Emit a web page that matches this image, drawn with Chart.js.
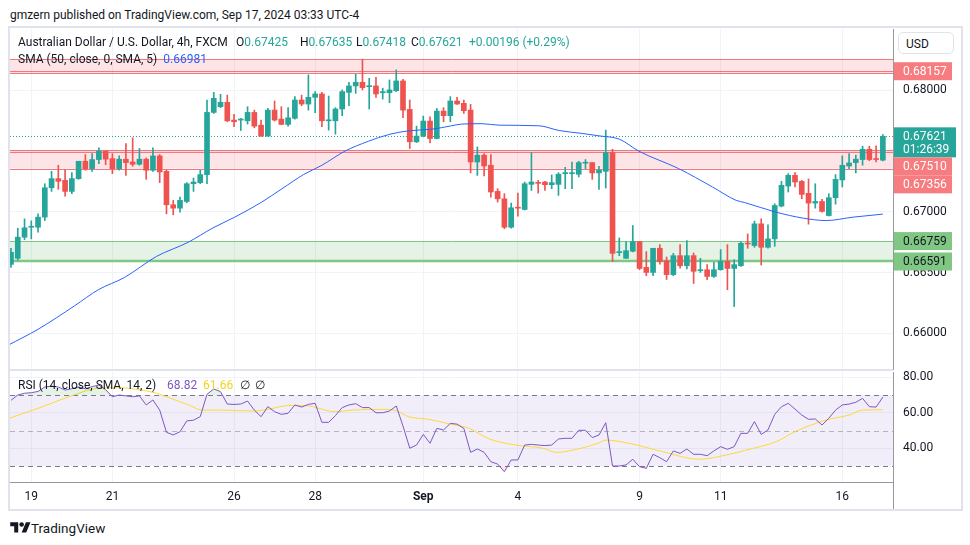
<!DOCTYPE html>
<html>
<head>
<meta charset="utf-8">
<script src="https://cdn.jsdelivr.net/npm/chart.js@4.4.1/dist/chart.umd.min.js"></script>
<style>
  body { margin: 0; background: #fff; width: 970px; height: 545px; overflow: hidden; position: relative;
         font-family: Roboto, 'Noto Sans', sans-serif; color: #131722; }
  .abs { position: absolute; white-space: nowrap; }
  #frame { left: 8px; top: 26px; width: 951px; height: 481px; border: 2px solid #e0e3eb; }
  #priceChart { position: absolute; left: 0; top: 28px; }
  #rsiChart { position: absolute; left: 0; top: 371px; }
  #sep { left: 10px; top: 369px; width: 883px; height: 2px; background: #e0e3eb; }
  .lg { font-size: 12px; line-height: 14px; }
  #usd { left: 898px; top: 32px; width: 56px; height: 22px; border: 1px solid #e0e3eb; border-radius: 5px;
         background: #fff; font-size: 12px; line-height: 22px; box-sizing: border-box; padding-left: 7px; }
</style>
</head>
<body>
<div class="abs" style="left:10px;top:8px;font-size:12px;">gmzern published on TradingView.com, Sep 17, 2024 03:33 UTC-4</div>
<div id="frame" class="abs"></div>
<canvas id="priceChart" width="970" height="343"></canvas>
<canvas id="rsiChart" width="970" height="139"></canvas>
<div id="sep" class="abs"></div>

<div class="abs lg" style="left:18px;top:35px;">Australian Dollar / U.S. Dollar, 4h, FXCM</div>
<div class="abs lg" style="left:236px;top:35px;">O<span style="color:#26a69a">0.67425</span></div>
<div class="abs lg" style="left:300px;top:35px;">H<span style="color:#26a69a">0.67635</span></div>
<div class="abs lg" style="left:356px;top:35px;">L<span style="color:#26a69a">0.67418</span></div>
<div class="abs lg" style="left:411px;top:35px;">C<span style="color:#26a69a">0.67621</span></div>
<div class="abs lg" style="left:469px;top:35px;color:#26a69a">+0.00196 (+0.29%)</div>
<div class="abs lg" style="left:18px;top:52px;">SMA (50, close, 0, SMA, 5) <span style="color:#2962ff;margin-left:3px">0.66981</span></div>
<div class="abs lg" style="left:18px;top:378px;">RSI (14, close, SMA, 14, 2)</div>
<div class="abs lg" style="left:167px;top:378px;color:#7e57c2">68.82</div>
<div class="abs lg" style="left:203px;top:378px;color:#f2d51e">61.66</div>
<div class="abs lg" style="left:240px;top:378px;">&#8709;</div>
<div class="abs lg" style="left:255px;top:378px;">&#8709;</div>
<div id="usd" class="abs">USD</div>

<div class="abs" style="left:10px;top:520px;font-size:13.5px;line-height:16px;">
  <svg width="21" height="16" viewBox="0 0 36 28" style="vertical-align:-3px"><path d="M14 22H7V11H0V4h14v18zM28 22h-8l7.5-18h8L28 22z" fill="#131722"/><circle cx="20" cy="8" r="4" fill="#131722"/></svg>TradingView
</div>

<script>
// 4h candles, Aug 18 – Sep 17 2024
const opens = [
  0.66567, 0.66617, 0.66791, 0.66873, 0.66873, 0.66956, 0.67198, 0.67273, 0.67259, 0.67168,
  0.67273, 0.67416, 0.67355, 0.67430, 0.67499, 0.67438, 0.67355, 0.67433, 0.67410, 0.67391,
  0.67433, 0.67342, 0.67460, 0.67333, 0.67058, 0.67030, 0.67085, 0.67231, 0.67240, 0.67306,
  0.67818, 0.67865, 0.67901, 0.67755, 0.67755, 0.67749, 0.67818, 0.67713, 0.67623, 0.67837,
  0.67763, 0.67719, 0.67769, 0.67920, 0.67887, 0.67942, 0.67970, 0.67749, 0.67749, 0.67846,
  0.67983, 0.68036, 0.68066, 0.68030, 0.68036, 0.67980, 0.67980, 0.67997, 0.68077, 0.67843,
  0.67576, 0.67623, 0.67747, 0.67603, 0.67829, 0.67791, 0.67912, 0.67893, 0.67837, 0.67410,
  0.67466, 0.67383, 0.67168, 0.67107, 0.66873, 0.67036, 0.67019, 0.67226, 0.67240, 0.67245,
  0.67223, 0.67226, 0.67314, 0.67314, 0.67309, 0.67400, 0.67405, 0.67320, 0.67333, 0.67488,
  0.66664, 0.66617, 0.66675, 0.66755, 0.66543, 0.66501, 0.66700, 0.66598, 0.66483, 0.66639,
  0.66556, 0.66639, 0.66515, 0.66523, 0.66468, 0.66523, 0.66592, 0.66534, 0.66556, 0.66741,
  0.66722, 0.66901, 0.66708, 0.66777, 0.67047, 0.67212, 0.67300, 0.67251, 0.67152, 0.67072,
  0.67085, 0.66969, 0.67116, 0.67262, 0.67377, 0.67405, 0.67430, 0.67515, 0.67433, 0.67425
];
const highs = [
  0.66700, 0.66865, 0.66942, 0.66926, 0.66983, 0.67231, 0.67333, 0.67383, 0.67347, 0.67322,
  0.67416, 0.67471, 0.67479, 0.67526, 0.67499, 0.67479, 0.67460, 0.67562, 0.67609, 0.67521,
  0.67444, 0.67526, 0.67471, 0.67342, 0.67094, 0.67121, 0.67240, 0.67278, 0.67342, 0.67920,
  0.67983, 0.67967, 0.67961, 0.67802, 0.67769, 0.67865, 0.67837, 0.67755, 0.67851, 0.67912,
  0.67865, 0.67857, 0.67948, 0.67961, 0.68127, 0.67989, 0.67983, 0.67953, 0.67857, 0.68003,
  0.68066, 0.68132, 0.68256, 0.68099, 0.68107, 0.68017, 0.68085, 0.68168, 0.68091, 0.67920,
  0.67705, 0.67788, 0.67782, 0.67851, 0.67857, 0.67948, 0.67942, 0.67920, 0.67884, 0.67534,
  0.67479, 0.67471, 0.67190, 0.67149, 0.67072, 0.67154, 0.67245, 0.67488, 0.67259, 0.67251,
  0.67303, 0.67322, 0.67366, 0.67410, 0.67416, 0.67430, 0.67405, 0.67375, 0.67672, 0.67515,
  0.66785, 0.66755, 0.66887, 0.66755, 0.66672, 0.66700, 0.66730, 0.66628, 0.66658, 0.66730,
  0.66763, 0.66661, 0.66617, 0.66565, 0.66584, 0.66689, 0.66730, 0.66606, 0.66755, 0.66818,
  0.66923, 0.66942, 0.66893, 0.67066, 0.67251, 0.67314, 0.67322, 0.67259, 0.67270, 0.67231,
  0.67102, 0.67149, 0.67306, 0.67460, 0.67479, 0.67466, 0.67540, 0.67540, 0.67543, 0.67635
];
const lows = [
  0.66543, 0.66603, 0.66771, 0.66777, 0.66832, 0.66928, 0.67168, 0.67185, 0.67129, 0.67149,
  0.67267, 0.67342, 0.67333, 0.67397, 0.67388, 0.67314, 0.67342, 0.67300, 0.67375, 0.67383,
  0.67267, 0.67333, 0.67240, 0.66983, 0.66975, 0.66997, 0.67074, 0.67168, 0.67231, 0.67231,
  0.67810, 0.67857, 0.67741, 0.67700, 0.67669, 0.67722, 0.67691, 0.67623, 0.67623, 0.67747,
  0.67719, 0.67705, 0.67762, 0.67873, 0.67837, 0.67815, 0.67700, 0.67672, 0.67639, 0.67791,
  0.67873, 0.67975, 0.68003, 0.67846, 0.67942, 0.67928, 0.67898, 0.67989, 0.67774, 0.67521,
  0.67570, 0.67617, 0.67567, 0.67600, 0.67741, 0.67741, 0.67884, 0.67810, 0.67320, 0.67300,
  0.67295, 0.67121, 0.67080, 0.66860, 0.66865, 0.66964, 0.67015, 0.67176, 0.67154, 0.67176,
  0.67190, 0.67135, 0.67190, 0.67190, 0.67287, 0.67355, 0.67267, 0.67185, 0.67196, 0.66590,
  0.66639, 0.66617, 0.66670, 0.66523, 0.66474, 0.66474, 0.66570, 0.66443, 0.66474, 0.66537,
  0.66530, 0.66410, 0.66501, 0.66441, 0.66460, 0.66520, 0.66358, 0.66220, 0.66550, 0.66700,
  0.66708, 0.66562, 0.66700, 0.66716, 0.67040, 0.67163, 0.67204, 0.67107, 0.66898, 0.67030,
  0.66997, 0.66965, 0.67063, 0.67204, 0.67355, 0.67320, 0.67383, 0.67420, 0.67410, 0.67418
];
const closes = [
  0.66667, 0.66791, 0.66868, 0.66879, 0.66956, 0.67198, 0.67273, 0.67251, 0.67168, 0.67273,
  0.67416, 0.67355, 0.67430, 0.67499, 0.67433, 0.67355, 0.67433, 0.67405, 0.67391, 0.67433,
  0.67342, 0.67460, 0.67328, 0.67058, 0.67030, 0.67094, 0.67231, 0.67245, 0.67306, 0.67818,
  0.67934, 0.67901, 0.67749, 0.67741, 0.67763, 0.67818, 0.67705, 0.67623, 0.67837, 0.67755,
  0.67719, 0.67774, 0.67920, 0.67887, 0.67942, 0.67970, 0.67749, 0.67755, 0.67846, 0.67989,
  0.68036, 0.68066, 0.68022, 0.68036, 0.67970, 0.67989, 0.68003, 0.68077, 0.67837, 0.67576,
  0.67623, 0.67747, 0.67603, 0.67829, 0.67791, 0.67912, 0.67887, 0.67832, 0.67410, 0.67466,
  0.67377, 0.67163, 0.67107, 0.66873, 0.67033, 0.67030, 0.67231, 0.67245, 0.67234, 0.67223,
  0.67240, 0.67309, 0.67322, 0.67322, 0.67405, 0.67405, 0.67320, 0.67342, 0.67488, 0.66658,
  0.66672, 0.66680, 0.66755, 0.66534, 0.66501, 0.66700, 0.66590, 0.66483, 0.66639, 0.66556,
  0.66639, 0.66510, 0.66521, 0.66468, 0.66523, 0.66592, 0.66534, 0.66565, 0.66741, 0.66735,
  0.66901, 0.66708, 0.66777, 0.67052, 0.67218, 0.67300, 0.67245, 0.67143, 0.67072, 0.67085,
  0.67003, 0.67116, 0.67267, 0.67383, 0.67402, 0.67433, 0.67515, 0.67430, 0.67430, 0.67621
];

// SMA 50 at a few bar positions
const smaIdx = [-0.5, 4, 9.4, 12.9, 16.8, 21.5, 26.2, 29.9, 33.1, 37.1, 40.1, 43.3, 46, 49.4, 52.9, 55.9,
  58.9, 62.3, 65, 66.7, 69.7, 72.2, 78.1, 81.1, 84.5, 87, 90, 92.9, 98.8, 103.8, 107.3, 108.5,
  113.2, 117.2, 120.6, 124.6, 129];
const smaVal = [0.65900, 0.66033, 0.66226, 0.66358, 0.66460, 0.66632, 0.66749, 0.66868, 0.66956, 0.67080,
  0.67190, 0.67307, 0.67383, 0.67499, 0.67581, 0.67636, 0.67667, 0.67680, 0.67706, 0.67722,
  0.67725, 0.67713, 0.67708, 0.67669, 0.67645, 0.67625, 0.67598, 0.67499, 0.67355, 0.67204,
  0.67094, 0.67077, 0.66997, 0.66948, 0.66928, 0.66956, 0.66981];

// RSI 14, one value per bar
const rsi = [
  67, 70, 71, 71.3, 72, 74.5, 75, 74.5, 72.8, 73.5,
  74.5, 73.5, 74.7, 75.6, 73, 69, 70, 69.5, 69, 69.5,
  64.4, 67.2, 61.5, 49, 47.5, 49.3, 55.4, 55.8, 57.8, 70.4,
  73.4, 71.9, 64.9, 64.7, 64.9, 66.6, 61.5, 57.8, 63.4, 60.6,
  59.1, 59.7, 64.4, 63.2, 64.7, 65.3, 54.6, 54.6, 58.4, 62.9,
  64.4, 65.1, 62.9, 62.9, 60, 60, 61, 63.8, 52.5, 40,
  41.8, 47.8, 42.8, 51.2, 50.3, 54, 53.6, 51.2, 37.7, 39.6,
  37.7, 32.4, 31.1, 26.8, 33.4, 33.4, 41.8, 42.2, 41.8, 41.5,
  41.8, 45.2, 45.6, 45.6, 50.1, 50.1, 46, 47.5, 54.4, 30,
  30, 30.6, 33.8, 29.6, 28.7, 36.6, 34.7, 32.4, 38.5, 37.1,
  39.6, 36.6, 36.6, 35.8, 38.5, 40.9, 39.4, 40.9, 48.4, 48.4,
  55, 47.8, 50.3, 59.1, 63.4, 65.3, 62.1, 58.7, 56.3, 56.5,
  53.1, 56.9, 61.5, 64.4, 64.9, 65.9, 68.1, 63.4, 63.2, 68.82
];
// RSI-based MA, sampled
const rsiMaIdx = [-0.5, 4, 9.3, 12.8, 15.8, 19.3, 21.5, 24.3, 26.3, 28.3, 31.2, 36.1, 38, 41, 43.5, 48,
  50.5, 55.4, 57.1, 58.8, 61.8, 64.8, 67.8, 70.8, 74.7, 78.7, 80.7, 82.6, 87, 88, 91.4, 96.4,
  101.8, 106.3, 108.5, 113.2, 116.2, 120.6, 124, 126, 129];
const rsiMaVal = [56.6, 62.5, 70, 73.8, 74.1, 72.8, 71, 67.2, 64.4, 61.5, 61.5, 61, 61.9, 64, 64, 60.6,
  61.5, 61.9, 61, 57.8, 56.3, 53.8, 51.2, 45.2, 41.8, 40, 37.7, 38.5, 43, 44.6, 42.8, 38.1,
  33.8, 36.6, 38.7, 43.7, 49.7, 55.9, 58.7, 61.5, 61.66];

const dayIdx = [3, 15, 33, 45, 61, 75, 93, 105, 123];
const dayLabels = ['19', '21', '26', '28', 'Sep', '4', '9', '11', '16'];
const priceTicks = [0.660, 0.665, 0.670, 0.675, 0.680];
const rsiTicks = [40, 60, 80];

// horizontal zones drawn on the price pane
const redZoneTop = [0.68255, 0.68140];
const redZoneTopLines = [0.68255, 0.68157, 0.68140];
const redZoneMid = [0.67510, 0.67356];
const redZoneMidLines = [0.67510, 0.67490, 0.67356];
const greenZone = [0.66759, 0.66591];
const lastPrice = 0.67621;

const UP = '#26a69a', DOWN = '#ef5350';
const FONT = "Roboto, 'Noto Sans', sans-serif";
Chart.defaults.font.family = FONT;

const bars = opens.map((_, i) => i);
const candleColors = bars.map(i => (closes[i] >= opens[i] ? UP : DOWN));

function hLine(ctx, area, y, color, width, dash) {
  ctx.save();
  ctx.strokeStyle = color;
  ctx.lineWidth = width;
  ctx.setLineDash(dash || []);
  ctx.beginPath();
  ctx.moveTo(area.left, y);
  ctx.lineTo(area.right, y);
  ctx.stroke();
  ctx.restore();
}

function noPad(s) {
  s.paddingTop = 0; s.paddingBottom = 0; s.paddingLeft = 0; s.paddingRight = 0;
}

// put the plot area where the screenshot has it, and make two known values land on their pixels
function calibrate(chart, top, bottom, v1, p1, v2, p2) {
  let padTop = 0, padBottom = 0;
  const k = (p2 - p1) / (v1 - v2);
  for (let n = 0; n < 4; n++) {
    const a = chart.chartArea;
    padTop += top - a.top;
    padBottom += a.bottom - bottom;
    chart.options.layout.padding = { left: 10, right: 0, top: padTop, bottom: padBottom };
    chart.options.scales.y.max = v1 + (p1 - top) / k;
    chart.options.scales.y.min = v2 - (bottom - p2) / k;
    chart.update();
  }
}

const zonesPlugin = {
  id: 'zones',
  beforeDatasetsDraw(chart) {
    const { ctx, chartArea: a, scales: { y } } = chart;
    const band = (pair, fill) => {
      const y1 = y.getPixelForValue(pair[0]), y2 = y.getPixelForValue(pair[1]);
      ctx.fillStyle = fill;
      ctx.fillRect(a.left, y1, a.right - a.left, y2 - y1);
    };
    ctx.save();
    ctx.beginPath();
    ctx.rect(a.left, a.top, a.right - a.left, a.bottom - a.top);
    ctx.clip();
    band(redZoneTop, 'rgba(242,54,69,0.13)');
    band(redZoneMid, 'rgba(242,54,69,0.13)');
    band(greenZone, 'rgba(76,175,80,0.15)');
    redZoneTopLines.concat(redZoneMidLines).forEach(v =>
      hLine(ctx, a, Math.round(y.getPixelForValue(v)) + 0.5, '#f4777d', 1));
    hLine(ctx, a, Math.round(y.getPixelForValue(greenZone[0])) + 0.5, '#81c784', 1);
    hLine(ctx, a, Math.round(y.getPixelForValue(greenZone[1])), '#81c784', 2.5);
    hLine(ctx, a, Math.round(y.getPixelForValue(lastPrice)) + 0.5, UP, 1, [1, 2]);
    ctx.restore();
  },
  afterDraw(chart) {
    const { ctx, chartArea: a, scales: { y } } = chart;
    const labels = [
      { v: 0.68157, t: ['0.68157'], bg: '#f77c80', fg: '#fff' },
      { v: lastPrice, t: ['0.67621', '01:26:39'], bg: UP, fg: '#fff' },
      { v: redZoneMid[0], t: ['0.67510'], bg: '#f77c80', fg: '#fff' },
      { v: redZoneMid[1], t: ['0.67356'], bg: '#f77c80', fg: '#fff' },
      { v: greenZone[0], t: ['0.66759'], bg: '#81c784', fg: '#131722' },
      { v: greenZone[1], t: ['0.66591'], bg: '#81c784', fg: '#131722' },
    ];
    let prevBottom = -1e9;
    ctx.save();
    ctx.font = '12px ' + FONT;
    ctx.textBaseline = 'middle';
    labels.forEach(l => {
      const h = 6 + 12 * l.t.length;
      let top = y.getPixelForValue(l.v) - 9;
      if (top < prevBottom) top = prevBottom;
      prevBottom = top + h;
      ctx.fillStyle = l.bg;
      ctx.fillRect(a.right + 1, top, l.t.length > 1 ? 62 : 58, h);
      ctx.fillStyle = l.fg;
      l.t.forEach((s, k) => ctx.fillText(s, a.right + 10, top + 9.5 + 13 * k));
    });
    ctx.restore();
  }
};

const priceChart = new Chart(document.getElementById('priceChart'), {
  type: 'bar',
  data: {
    datasets: [
      {
        type: 'line',
        data: smaIdx.map((x, k) => ({ x, y: smaVal[k] })),
        borderColor: '#2962ff',
        borderWidth: 1,
        pointRadius: 0,
        cubicInterpolationMode: 'monotone',
        order: 0,
      },
      {
        data: bars.map(i => ({ x: i, y: [lows[i], highs[i]] })),
        backgroundColor: candleColors,
        barThickness: 1,
        grouped: false,
        order: 2,
      },
      {
        data: bars.map(i => ({ x: i, y: [opens[i], closes[i]] })),
        backgroundColor: candleColors,
        barThickness: 5,
        minBarLength: 1,
        grouped: false,
        order: 1,
      },
    ],
  },
  options: {
    responsive: false,
    animation: false,
    layout: { padding: { left: 10, right: 0, top: 0, bottom: 0 } },
    plugins: { legend: { display: false }, tooltip: { enabled: false } },
    scales: {
      x: {
        type: 'linear',
        min: -0.15,
        max: 130.5,
        offset: false,
        grid: { color: '#f0f3fa', drawTicks: false, offset: false },
        border: { display: false },
        ticks: { display: false },
        afterBuildTicks: s => { s.ticks = dayIdx.map(v => ({ value: v })); },
        afterFit: s => { s.height = 0; noPad(s); },
      },
      y: {
        position: 'right',
        min: 0.657,
        max: 0.685,
        grid: { color: '#f0f3fa', drawTicks: false },
        border: { color: '#9598a1' },
        ticks: { padding: 10, color: '#131722', font: { size: 12 }, callback: v => v.toFixed(5) },
        afterBuildTicks: s => { s.ticks = priceTicks.map(v => ({ value: v })); },
        afterFit: s => { s.width = 77; noPad(s); },
      },
    },
  },
  plugins: [zonesPlugin],
});
// canvas starts at page y=28: 0.68 sits at y=90.3, 0.66 at y=333.3
calibrate(priceChart, 1, 341, 0.68, 62.3, 0.66, 305.3);

const rsiBandPlugin = {
  id: 'rsiBand',
  beforeDatasetsDraw(chart) {
    const { ctx, chartArea: a, scales: { y } } = chart;
    const y70 = y.getPixelForValue(70), y30 = y.getPixelForValue(30);
    ctx.save();
    ctx.fillStyle = 'rgba(126,87,194,0.1)';
    ctx.fillRect(a.left, y70, a.right - a.left, y30 - y70);
    hLine(ctx, a, Math.round(y70) + 0.5, '#787b86', 1, [5, 4]);
    hLine(ctx, a, Math.round(y.getPixelForValue(50)) + 0.5, 'rgba(120,123,134,0.5)', 1, [5, 4]);
    hLine(ctx, a, Math.round(y30) + 0.5, '#787b86', 1, [5, 4]);
    ctx.restore();
  },
  afterDraw(chart) {
    const { ctx, chartArea: a } = chart;
    ctx.save();
    ctx.strokeStyle = '#9598a1';
    ctx.beginPath();
    ctx.moveTo(a.right + 0.5, a.bottom);
    ctx.lineTo(a.right + 0.5, chart.height - 1);
    ctx.stroke();
    ctx.restore();
  }
};

const rsiPts = bars.map(i => ({ x: i, y: rsi[i] }));

const rsiChart = new Chart(document.getElementById('rsiChart'), {
  type: 'line',
  data: {
    datasets: [
      {
        data: rsiPts,
        borderColor: '#7e57c2',
        borderWidth: 1,
        pointRadius: 0,
        fill: { target: { value: 70 }, above: 'rgba(76,175,80,0.15)', below: 'rgba(0,0,0,0)' },
      },
      {
        data: rsiPts,
        borderColor: 'rgba(0,0,0,0)',
        borderWidth: 0,
        pointRadius: 0,
        fill: { target: { value: 30 }, above: 'rgba(0,0,0,0)', below: 'rgba(242,54,69,0.12)' },
      },
      {
        data: rsiMaIdx.map((x, k) => ({ x, y: rsiMaVal[k] })),
        borderColor: '#fdd835',
        borderWidth: 1,
        pointRadius: 0,
        cubicInterpolationMode: 'monotone',
      },
    ],
  },
  options: {
    responsive: false,
    animation: false,
    layout: { padding: { left: 10, right: 0, top: 1, bottom: 0 } },
    plugins: { legend: { display: false }, tooltip: { enabled: false } },
    scales: {
      x: {
        type: 'linear',
        min: -0.15,
        max: 130.5,
        offset: false,
        grid: { color: '#f0f3fa', drawTicks: false },
        border: { color: '#9598a1' },
        ticks: {
          padding: 8,
          color: '#131722',
          font: ctx => ({ size: 12, weight: dayLabels[dayIdx.indexOf(ctx.tick && ctx.tick.value)] === 'Sep' ? 'bold' : 'normal' }),
          maxRotation: 0,
          autoSkip: false,
          callback: v => dayLabels[dayIdx.indexOf(v)] || '',
        },
        afterBuildTicks: s => { s.ticks = dayIdx.map(v => ({ value: v })); },
        afterFit: s => { s.height = 28; noPad(s); },
      },
      y: {
        position: 'right',
        min: 21,
        max: 83,
        grid: { color: '#f0f3fa', drawTicks: false },
        border: { color: '#9598a1' },
        ticks: { padding: 10, color: '#131722', font: { size: 12 }, callback: v => v.toFixed(2) },
        afterBuildTicks: s => { s.ticks = rsiTicks.map(v => ({ value: v })); },
        afterFit: s => { s.width = 77; noPad(s); },
      },
    },
  },
  plugins: [rsiBandPlugin],
});
// canvas starts at page y=371: 70 sits at y=395, 30 at y=466
calibrate(rsiChart, 1, 111, 70, 24, 30, 95);
</script>
</body>
</html>
